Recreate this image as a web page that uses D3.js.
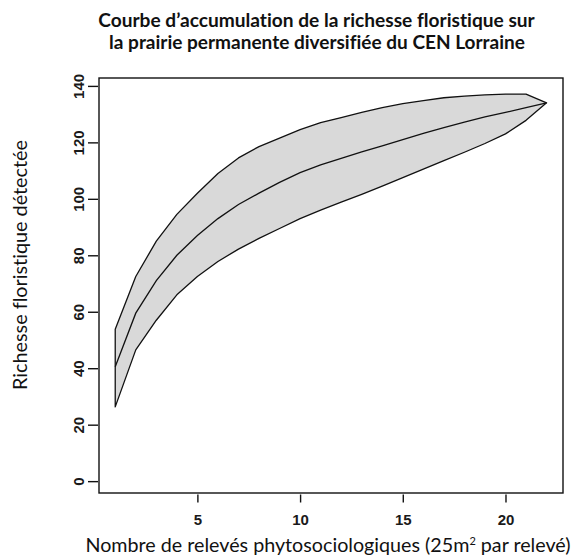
<!DOCTYPE html>
<html>
<head>
<meta charset="utf-8">
<script src="https://cdn.jsdelivr.net/npm/d3@7"></script>
<style>
  body { margin: 0; background: #fff; }
  svg { display: block; }
  text { font-variant-ligatures: none; font-feature-settings: "liga" 0; }
</style>
</head>
<body>
<svg id="chart" width="575" height="556"></svg>
<script>
// nombre de relevés (x)
const releves = [1, 2, 3, 4, 5, 6, 7, 8, 9, 10, 11, 12, 13, 14, 15, 16, 17, 18, 19, 20, 21, 22];
// richesse moyenne
const richesse = [40.5, 59.5, 71, 80, 87, 93, 98, 102, 105.8, 109.3, 112, 114.3, 116.6, 118.8, 121, 123.2, 125.2, 127.2, 129, 130.6, 132.3, 134];
// enveloppe haute / basse
const borneHaute = [53.8, 72.5, 85, 94.5, 102, 109, 114.5, 118.5, 121.5, 124.5, 127, 128.8, 130.6, 132.3, 133.7, 134.8, 135.8, 136.4, 136.8, 137.1, 137.1, 134];
const borneBasse = [26.3, 46.5, 57, 66, 72.5, 77.8, 82.2, 86, 89.5, 93, 96, 98.8, 101.6, 104.5, 107.5, 110.5, 113.5, 116.5, 119.6, 123, 127.8, 134];

const xTicks = [5, 10, 15, 20];
const yTicks = [0, 20, 40, 60, 80, 100, 120, 140];

const titre = ['Courbe d\u2019accumulation de la richesse floristique sur',
  'la prairie permanente diversifiée du CEN Lorraine'];
const titreX = 'Nombre de relevés phytosociologiques (25m';
const titreXFin = ' par relevé)';
const titreY = 'Richesse floristique détectée';

const svg = d3.select('#chart');
const plot = { left: 99, right: 563, top: 78, bottom: 493 };

// limites façon R (étendues de 4 %)
const x = d3.scaleLinear().domain([0.21, 22.8]).range([plot.left, plot.right]);
const y = d3.scaleLinear().domain([-4.2, 142.8]).range([plot.bottom, plot.top]);

const data = releves.map((n, i) => ({
  n,
  moy: richesse[i],
  haut: borneHaute[i],
  bas: borneBasse[i],
}));

const area = d3.area()
  .x((d) => x(d.n))
  .y0((d) => y(d.bas))
  .y1((d) => y(d.haut));

const line = d3.line()
  .x((d) => x(d.n))
  .y((d) => y(d.moy));

svg.append('path')
  .datum(data)
  .attr('d', area)
  .attr('fill', '#d9d9d9')
  .attr('stroke', '#111')
  .attr('stroke-width', 1.3)
  .attr('stroke-linejoin', 'round');

svg.append('path')
  .datum(data)
  .attr('d', line)
  .attr('fill', 'none')
  .attr('stroke', '#111')
  .attr('stroke-width', 1.3);

// cadre
svg.append('rect')
  .attr('x', plot.left)
  .attr('y', plot.top)
  .attr('width', plot.right - plot.left)
  .attr('height', plot.bottom - plot.top)
  .attr('fill', 'none')
  .attr('stroke', '#111')
  .attr('stroke-width', 1.4);

// axes
const xAxis = svg.append('g')
  .attr('transform', `translate(0,${plot.bottom + 1.5})`)
  .call(d3.axisBottom(x).tickValues(xTicks).tickSize(8).tickPadding(12));

const yAxis = svg.append('g')
  .attr('transform', `translate(${plot.left - 1},0)`)
  .call(d3.axisLeft(y).tickValues(yTicks).tickSize(10).tickPadding(3));

[xAxis, yAxis].forEach((g) => {
  g.select('.domain').remove();
  g.selectAll('.tick line').attr('stroke', '#111').attr('stroke-width', 1.4);
  g.selectAll('.tick text')
    .attr('fill', '#1a1a1a')
    .style('font-family', '"Liberation Sans", Arial, sans-serif')
    .style('font-weight', 'bold')
    .style('font-size', '15px');
});

yAxis.selectAll('.tick text')
  .attr('transform', 'rotate(-90)')
  .attr('x', 0)
  .attr('y', -14)
  .attr('dy', 0)
  .attr('text-anchor', 'middle');

const fitWidth = (sel, target) => {
  const w = sel.node().getComputedTextLength();
  const fs = parseFloat(sel.style('font-size'));
  sel.style('font-size', `${(fs * target) / w}px`);
};

// titre
const titleFont = 'Lato, "Noto Sans", sans-serif';
titre.forEach((t, i) => {
  const txt = svg.append('text')
    .attr('x', i === 0 ? 316.5 : 317)
    .attr('y', i === 0 ? 27 : 49)
    .attr('text-anchor', 'middle')
    .attr('fill', '#111')
    .style('font-family', titleFont)
    .style('font-weight', 'bold')
    .style('font-size', '16px')
    .text(t);
  fitWidth(txt, i === 0 ? 437 : 416);
});

// titre axe x
const xt = svg.append('text')
  .attr('x', 328)
  .attr('y', 552)
  .attr('text-anchor', 'middle')
  .attr('fill', '#111')
  .style('font-family', titleFont)
  .style('font-size', '18px');
xt.append('tspan').text(titreX);
xt.append('tspan').attr('dy', -7).style('font-size', '11px').text('2');
xt.append('tspan').attr('dy', 7).text(titreXFin);
fitWidth(xt, 486);

// titre axe y
const yt = svg.append('text')
  .attr('transform', 'translate(27,265) rotate(-90)')
  .attr('text-anchor', 'middle')
  .attr('fill', '#111')
  .style('font-family', titleFont)
  .style('font-size', '17px')
  .text(titreY);
fitWidth(yt, 250);
</script>
</body>
</html>
